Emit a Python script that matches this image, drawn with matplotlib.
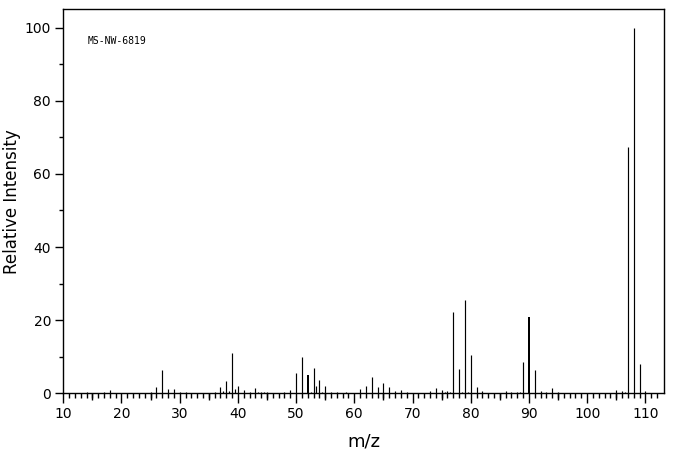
import matplotlib
matplotlib.use("Agg")
import matplotlib.pyplot as plt
import numpy as np

# peak list (m/z, relative intensity)
mz = [14, 17, 18, 25, 26, 27, 28, 29, 30, 31,
      36, 37, 37.5, 38, 38.5, 39, 39.5, 40, 41, 42,
      43, 43.5, 44, 44.5, 45, 48, 49, 50, 51, 52,
      52.5, 53, 53.5, 54, 54.5, 55, 56, 57, 58.5, 61,
      62, 63, 64, 65, 66, 67, 68, 69, 73, 74,
      75, 75.5, 76, 76.5, 77, 78, 78.5, 79, 79.5, 80,
      81, 82, 86, 87, 88, 88.5, 89, 90, 91, 92,
      93, 94, 95, 105, 106, 106.5, 107, 108, 109, 110]
intensity = [0.3, 0.3, 0.9, 0.3, 1.7, 6.5, 1.2, 1.2, 0.3, 0.3,
             0.3, 1.7, 0.7, 3.4, 0.7, 11.0, 1.2, 2.0, 0.9, 0.3,
             1.5, 0.4, 0.3, 0.3, 0.3, 0.3, 0.9, 5.5, 9.9, 5.0,
             0.3, 6.9, 2.0, 3.6, 0.3, 2.0, 0.3, 0.3, 0.3, 1.2,
             2.0, 4.5, 1.7, 2.8, 1.7, 0.6, 0.9, 0.3, 0.6, 1.5,
             0.9, 0.3, 0.6, 0.3, 22.2, 6.7, 0.3, 25.5, 0.3, 10.5,
             1.7, 0.6, 0.6, 0.3, 0.3, 0.3, 8.6, 20.9, 6.4, 0.6,
             0.3, 1.5, 0.3, 0.9, 0.6, 0.3, 67.4, 100.0, 8.0, 0.6]

label_ticks = [10, 20, 30, 40, 50, 60, 70, 80, 90, 100, 110]
y_ticks = [0, 20, 40, 60, 80, 100]

px = 0.72  # one pixel in points at 100 dpi

fig = plt.figure(figsize=(6.76, 4.55), dpi=100)
ax = fig.add_axes([0.0936, 0.1356, 0.9822 - 0.0936, 0.9796 - 0.1356])

widths = [2 * px if m in (52, 90) else 0.85 for m in mz]
ax.vlines(mz, 0, intensity, colors="black", linewidth=widths)

ax.set_xlim(10, 113.2)
ax.set_ylim(0, 105)

for s in ax.spines.values():
    s.set_linewidth(1.0)

# x ticks: labelled every 10, small every 1, medium at the 5s
ax.set_xticks(label_ticks)
ax.set_xticks(np.arange(10, 113, 1), minor=True)
ax.tick_params(axis="x", which="major", length=10 * px, width=1.0,
               labelsize=10, pad=3)
ax.tick_params(axis="x", which="minor", length=5 * px, width=1.0)

sec = ax.secondary_xaxis("bottom")
sec.set_xticks(np.arange(15, 113, 10))
sec.set_xticklabels([])
sec.tick_params(length=7 * px, width=1.0)
sec.spines["bottom"].set_visible(False)

ax.set_yticks(y_ticks)
ax.set_yticks(np.arange(10, 105, 20), minor=True)
ax.tick_params(axis="y", which="major", length=8 * px, width=1.0,
               labelsize=10, pad=3)
ax.tick_params(axis="y", which="minor", length=4 * px, width=1.0)

ax.set_xlabel("m/z", fontsize=13, labelpad=8)
ax.set_ylabel("Relative Intensity", fontsize=12)
ax.yaxis.set_label_coords(-0.07, 0.5)

ax.text(0.04, 0.917, "MS-NW-6819", transform=ax.transAxes,
        fontsize=7, family="DejaVu Sans Mono", va="center")

fig.savefig("out.png", dpi=100)
